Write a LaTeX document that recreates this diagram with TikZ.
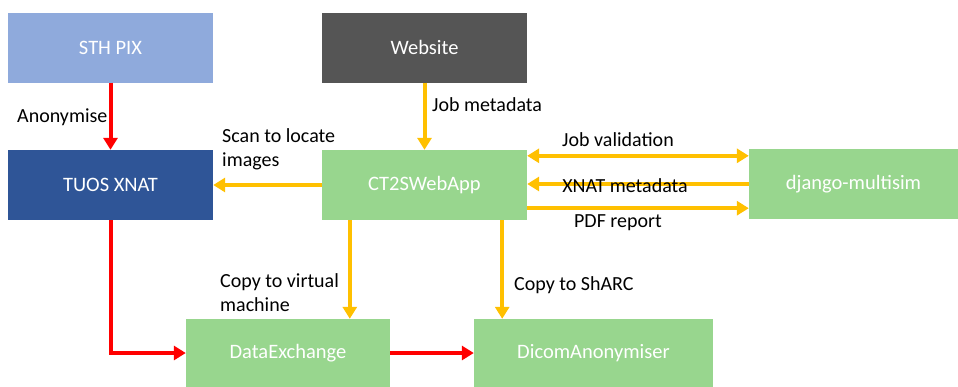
\documentclass[tikz,border=0pt]{standalone}
\usepackage{fontspec}
\setmainfont{Carlito}
\usetikzlibrary{arrows.meta}
\definecolor{pixblue}{HTML}{8FAADC}
\definecolor{webgray}{HTML}{555555}
\definecolor{xnatblue}{HTML}{2F5597}
\definecolor{boxgreen}{HTML}{98D68E}
\definecolor{flowyellow}{HTML}{FFC000}
\definecolor{flowred}{HTML}{FF0000}
\tikzset{
  box/.style={draw=none, minimum height=70pt, inner sep=0pt, text=white,
    font=\fontsize{20.5}{24}\selectfont},
  lbl/.style={inner sep=0pt, text=black, font=\fontsize{20}{24}\selectfont, align=left},
  yarrow/.style={draw=flowyellow, line width=4pt, -{Triangle[length=12pt,width=14pt]}},
  yboth/.style={draw=flowyellow, line width=4pt, {Triangle[length=12pt,width=14pt]}-{Triangle[length=12pt,width=14pt]}},
  rarrow/.style={draw=flowred, line width=4pt, -{Triangle[length=12pt,width=14pt]}},
}
\begin{document}
\begin{tikzpicture}[x=1pt,y=-1pt]
\useasboundingbox (0,0) rectangle (958,386);
\node[box, fill=pixblue, minimum width=205pt] (sth) at (110.5,47.5) {STH PIX};
\node[box, fill=webgray, minimum width=205pt] (web) at (424.5,47.5) {Website};
\node[box, fill=xnatblue, minimum width=205pt] (tuos) at (110.5,185) {TUOS XNAT};
\node[box, fill=boxgreen, minimum width=205pt] (ct) at (424.5,185) {CT2SWebApp};
\node[box, fill=boxgreen, minimum width=209pt] (dj) at (853.5,184) {django-multisim};
\node[box, fill=boxgreen, minimum width=204pt, minimum height=68pt] (de) at (288,353) {DataExchange};
\node[box, fill=boxgreen, minimum width=239pt, minimum height=68pt] (da) at (593.5,353) {DicomAnonymiser};

% red flow
\draw[rarrow] (sth.south) -- (tuos.north);
\draw[rarrow] (tuos.south) |- (de.west);
\draw[rarrow] (de.east) -- (da.west);

% yellow flow
\draw[yarrow] (web.south) -- (ct.north);
\draw[yarrow] (ct.west) -- (tuos.east);
\draw[yboth] ([yshift=-6pt]ct.north east) -- ([yshift=-6pt]ct.north east -| dj.west);
\draw[yarrow] (dj.west) -- (dj.west -| ct.east);
\draw[yarrow] ([yshift=12pt]ct.south east) -- ([yshift=12pt]ct.south east -| dj.west);
\draw[yarrow] ([xshift=28pt]ct.south west) coordinate (c1) -- (c1 |- de.north);
\draw[yarrow] ([xshift=-25pt]ct.south east) coordinate (c2) -- (c2 |- da.north);

% labels
\node[lbl, anchor=west] (l1) at (17,117) {Anonymise};
\node[lbl, anchor=west] (l2) at (432,105) {Job metadata};
\node[lbl, anchor=west] (l3) at (222,149) {Scan to locate\\images};
\node[lbl] (l4) at (618,140) {Job validation};
\node[lbl] (l5) at (625,186) {XNAT metadata};
\node[lbl] (l6) at (618,223) {PDF report};
\node[lbl, anchor=west] (l7) at (220,293) {Copy to virtual\\machine};
\node[lbl, anchor=west] (l8) at (514,285) {Copy to ShARC};
\end{tikzpicture}
\end{document}
